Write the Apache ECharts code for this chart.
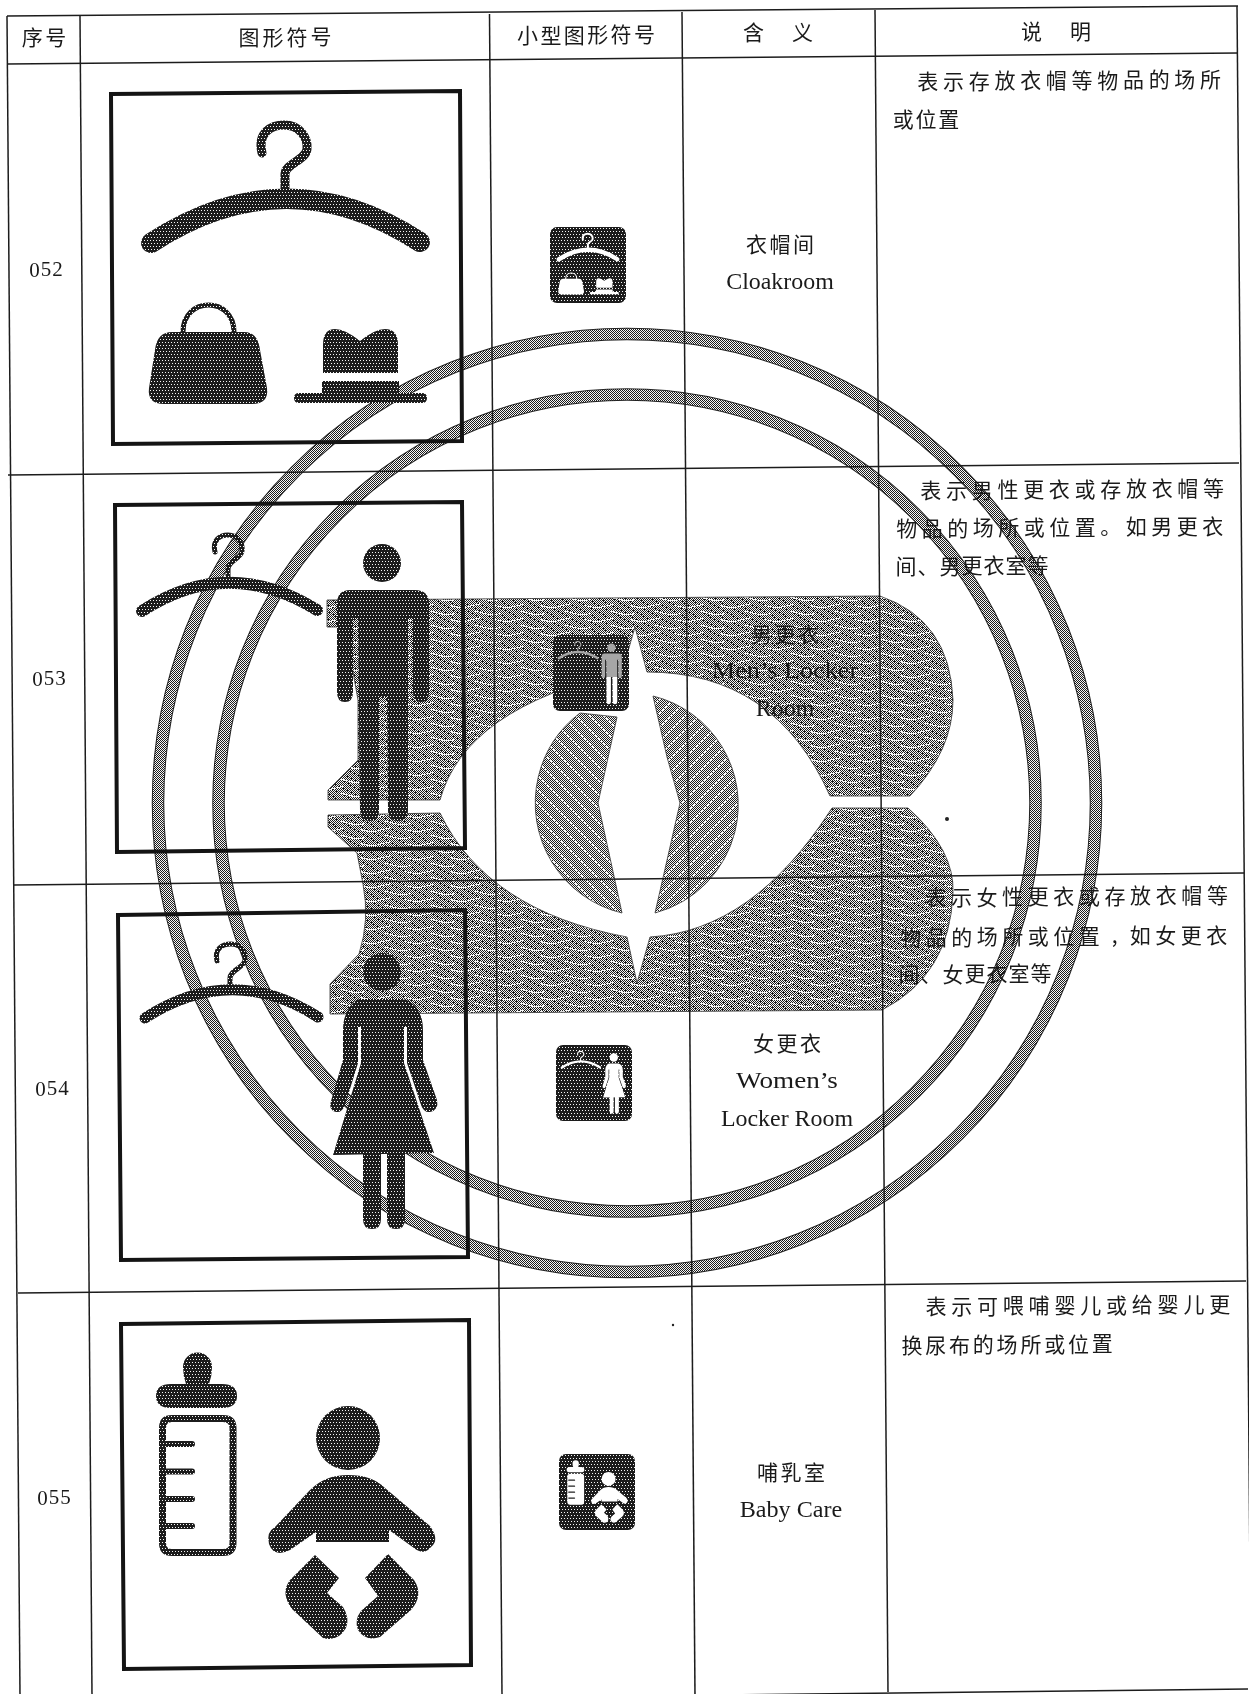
<!DOCTYPE html>
<html>
<head>
<meta charset="utf-8">
<title>图形符号</title>
<style>html,body{margin:0;padding:0;background:#fff}#main{width:1249px;height:1694px}</style>
<script src="https://cdn.jsdelivr.net/npm/echarts@6/dist/echarts.min.js"></script>
</head>
<body>
<div id="main"></div>
<script>
// table content
var headerLabels = ['序号', '图形符号', '小型图形符号', '含义', '说明'];
var rowNumbers = ['052', '053', '054', '055'];
var meaningZh = ['衣帽间', '男更衣', '女更衣', '哺乳室'];
var meaningEn = [['Cloakroom'], ['Men’s Locker', 'Room'], ['Women’s', 'Locker Room'], ['Baby Care']];
var descriptions = [
    ['表示存放衣帽等物品的场所', '或位置'],
    ['表示男性更衣或存放衣帽等', '物品的场所或位置。如男更衣', '间、男更衣室等'],
    ['表示女性更衣或存放衣帽等', '物品的场所或位置,如女更衣', '间、女更衣室等'],
    ['表示可喂哺婴儿或给婴儿更', '换尿布的场所或位置']
];

// layout, in page pixels (the scan is slightly rotated)
var gridLines = [
    [7, 16, 1238, 6], [7, 64, 1238, 53], [8, 475, 1239, 463], [14, 885, 1244, 873],
    [18, 1293, 1246, 1281], [18, 1703, 1248, 1689],
    [7, 16, 20, 1694], [80, 16, 92, 1694], [489.5, 14, 502, 1694],
    [682, 12, 695, 1694], [875, 10, 888, 1692], [1237, 6, 1251, 1694]
];
var headerPos = [[44, 37, 23.5], [285, 37, 24], [586, 35, 23.4], [778, 32, 49], [1056, 31, 49]];
var numberPos = [[46, 271], [49, 680], [52, 1090], [54, 1499]];
var numberPitch = 11.5;
var meaningPos = [[780, 244, 283], [785, 634, 672, 710], [787, 1043, 1082, 1120], [791, 1472, 1511]];
var meaningStretch = [[1.04], [1.14, 1.04], [1.18, 1.04], [1.05]];
var descPos = [
    [[915, 81, 25.7], [892, 119, 22.7]],
    [[918, 490, 25.7], [894, 528, 25.5], [895, 566, 22]],
    [[923, 897, 25.6], [898, 937, 25.5], [898, 974, 22]],
    [[923, 1306, 25.8], [900, 1345, 23.8]]
];
var frames = [
    [[111, 94], [460, 91], [462, 441], [113, 444]],
    [[115, 505], [462, 502], [465, 848], [117, 852]],
    [[118, 915], [465, 910], [468, 1257], [121, 1260]],
    [[121, 1324], [469, 1320], [471, 1665], [124, 1669]]
];
var smallIcons = [[550, 227], [553, 635], [556, 1045], [559, 1454]];
var smallSize = 76;
var specks = [[947, 819, 2], [673, 1325, 1.2]];
var sealCenter = [627, 803];
var sealRadius = [469, 408.5];

function disc(x, y, r) {
    return 'M' + (x - r) + ' ' + y + 'A' + r + ' ' + r + ' 0 1 0 ' + (x + r) + ' ' + y +
        'A' + r + ' ' + r + ' 0 1 0 ' + (x - r) + ' ' + y + 'Z';
}

// symbol outlines; w means stroked with that width
var symbolParts = [
    [
        { d: 'M262 153 C257 132 272 125 284 125 C300 125 308 138 307 149 C306 160 285 164 285 174 L285 192', w: 9 },
        { d: 'M151 243 Q286 155 420 242', w: 20 },
        { d: 'M172 332 L244 332 Q258 332 260 350 L267 388 Q269 404 252 404 L164 404 Q147 404 149 388 L155 350 Q157 332 172 332 Z' },
        { d: 'M183 332 C183 296 234 296 234 332', w: 5 },
        { d: 'M323 373 L323 345 Q323 329 335 329 Q345 329 360 341 Q375 329 385 329 Q398 329 398 345 L398 373 Z' },
        { d: 'M322 381 L399 381 L399 393 L422 393 Q427 393 427 398 Q427 403 422 403 L299 403 Q294 403 294 398 Q294 393 299 393 L322 393 Z' }
    ],
    [
        { d: 'M215 552 C212 540 220 535 228 535 C238 535 243 544 242 551 C241 559 228 561 228 569 L228 582', w: 5 },
        { d: 'M142 611 Q228 555 317 610', w: 12 },
        { d: disc(382, 563, 19) },
        { d: 'M350 590 L415 590 Q429 590 429 604 L429 692 Q429 702 421 702 Q413 702 413 692 L413 618 L408 618 L408 810 Q408 821 398 821 Q388 821 388 810 L387 697 L379 697 L379 810 Q379 821 369 821 Q360 821 360 810 L358 618 L353 618 L353 692 Q353 702 345 702 Q337 702 337 692 L337 604 Q337 590 350 590 Z' }
    ],
    [
        { d: 'M217 961 C214 949 222 944 231 944 C241 944 246 953 245 960 C244 968 230 970 230 978 L230 990', w: 5 },
        { d: 'M145 1018 Q232 962 318 1017', w: 11 },
        { d: disc(382, 972, 19) },
        { d: 'M360 999 L402 999 Q412 1000 418 1010 Q423 1018 423 1030 L423 1060 L437 1100 Q439 1110 430 1112 Q424 1113 421 1105 L407 1063 L407 1027 L404 1027 L404 1063 L434 1153 L333 1155 L361 1063 L361 1027 L358 1027 L358 1063 L345 1105 Q342 1113 336 1112 Q328 1110 331 1101 L343 1060 L343 1030 Q343 1018 348 1010 Q353 1000 360 999 Z' },
        { d: 'M363 1150 L381 1150 L381 1219 Q381 1229 372 1229 Q363 1229 363 1219 Z' },
        { d: 'M387 1150 L405 1150 L405 1219 Q405 1229 396 1229 Q387 1229 387 1219 Z' }
    ],
    [
        { d: 'M186 1384 Q183 1376 183 1367 A14.5 14.5 0 0 1 212 1367 Q212 1376 209 1384 L222 1384 Q237 1384 237 1396 Q237 1408 222 1408 L171 1408 Q156 1408 156 1396 Q156 1384 171 1384 Z' },
        { d: 'M172 1418.5 L223 1418.5 Q233 1418.5 233 1428 L233 1543 Q233 1552.5 223 1552.5 L172 1552.5 Q162.5 1552.5 162.5 1543 L162.5 1428 Q162.5 1418.5 172 1418.5 Z', w: 7 },
        { d: 'M166 1444 L192 1444 M166 1471.5 L192 1471.5 M166 1499 L192 1499 M166 1526 L192 1526', w: 6 },
        { d: disc(348, 1438, 32) },
        { d: 'M348 1475 Q372 1475 385 1488 L430 1526 Q440 1540 431 1547 Q424 1556 414 1548 L389 1530 L389 1542 L316 1542 L316 1532 L290 1550 Q274 1558 269 1544 Q266 1532 275 1527 L310 1490 Q325 1475 348 1475 Z' },
        { d: 'M315 1555 L339 1578 L327 1593 L343 1607 Q350 1618 346 1628 Q338 1642 323 1638 L292 1609 Q280 1593 290 1580 Z' },
        { d: 'M388 1554 L365 1578 L378 1596 L361 1611 Q354 1620 358 1630 Q366 1642 380 1637 L411 1610 Q424 1595 414 1580 Z' }
    ]
];
// white legs of the small 053 figure stay clear of the stamp
var smallManLegs = 'M360 697 L408 697 L408 810 Q408 821 398 821 Q388 821 388 810 L387 697 L379 697 L379 810 Q379 821 369 821 Q360 821 360 810 Z';
var smallBottleBody = 'M172 1415 L223 1415 Q236 1415 236 1428 L236 1543 Q236 1556 223 1556 L172 1556 Q159 1556 159 1543 L159 1428 Q159 1415 172 1415 Z';

// stamp behind the table
var sealUpper = 'M327 600 L880 596 Q950 620 953 700 Q953 750 910 796 L830 796 Q775 672 647 672 L635 627 L622 672 Q465 708 440 800 L328 800 L328 790 L358 760 L358 700 L345 627 L327 627 Z';
var sealLower = 'M328 815 L440 813 Q487 911 627 937 L637 983 L650 937 Q753 931 832 808 L908 808 Q955 850 953 893 Q950 975 882 1010 L330 1014 L330 984 L359 954 Q370 920 363 884 L357 853 L328 827 Z';
var pupilLeft = 'M617 717 L598 803 L612 867 L622 913 A113 113 0 0 1 580 713 Z';
var pupilRight = 'M653 696 A112 112 0 0 1 655 913 L680 803 L667 757 Z';

// scan-like 1-bit textures
function tile(w, h, isDark) {
    var c = document.createElement('canvas');
    c.width = w;
    c.height = h;
    var ctx = c.getContext('2d');
    for (var y = 0; y < h; y++) {
        for (var x = 0; x < w; x++) {
            ctx.fillStyle = isDark(x, y) ? '#1c1c1c' : '#f6f6f6';
            ctx.fillRect(x, y, 1, 1);
        }
    }
    return { image: c, repeat: 'repeat' };
}
// stipple: sparse light dots in staggered rows
var inkFill = tile(6, 6, function (x, y) {
    return !(y % 3 === 0 && x % 3 === (y % 6 === 0 ? 0 : 1));
});
var sealFill = tile(90, 14, function (x, y) {
    var wave = Math.round(3 + 2 * Math.sin(x * Math.PI / 22.5));
    var wave2 = Math.round(10 + 2 * Math.sin(x * Math.PI / 22.5 + 2));
    if ((y === wave && x % 45 < 30) || (y === wave2 && (x + 20) % 45 < 25)) { return false; }
    return (x + y) % 2 === 0 || (x * 5 + y * 3) % 13 === 0;
});
var pupilFillL = tile(14, 14, function (x, y) {
    return ((x - y + 14) % 14 !== 0 || x % 3 === 0) && (x + y) % 2 === 0;
});
var pupilFillR = tile(14, 14, function (x, y) {
    return ((x + y) % 14 !== 0 || x % 3 === 0) && (x + y) % 2 === 0;
});
var ringFill = tile(2, 2, function (x, y) { return (x + y) % 2 === 0; });

var cjkFont = '"Noto Sans CJK SC"';
var latinFont = '"Liberation Serif"';

function textEl(api, str, x, y, font, stretch) {
    var p = api.coord([x, y]);
    return {
        type: 'text',
        x: p[0],
        y: p[1],
        scaleX: stretch || 1,
        style: { text: str, x: 0, y: 0, font: font, fill: '#1a1a1a', align: 'center', verticalAlign: 'middle' }
    };
}

// one text element per character, to keep the wide set of the print
function charRun(api, str, x0, y, pitch, font) {
    var els = [];
    for (var i = 0; i < str.length; i++) {
        els.push(textEl(api, str[i], x0 + pitch * (i + 0.5), y - pitch * i * 0.008, font));
    }
    return els;
}

function partEls(parts, fill) {
    return parts.map(function (part) {
        var style = part.w
            ? { fill: 'none', stroke: fill, lineWidth: part.w, lineCap: 'round', lineJoin: 'round' }
            : { fill: fill };
        return { type: 'path', shape: { pathData: part.d }, style: style };
    });
}

function renderSeal(params, api) {
    var c = api.coord(sealCenter);
    var o = api.coord([0, 0]);
    var pieces = [[sealUpper, sealFill], [sealLower, sealFill], [pupilLeft, pupilFillL], [pupilRight, pupilFillR]];
    var children = pieces.map(function (piece) {
        return { type: 'path', x: o[0], y: o[1], shape: { pathData: piece[0] }, style: { fill: piece[1], stroke: '#333', lineWidth: 0.8 } };
    });
    sealRadius.forEach(function (r) {
        children.push({ type: 'circle', shape: { cx: c[0], cy: c[1], r: r }, style: { fill: 'none', stroke: '#222', lineWidth: 12.5 } });
        children.push({ type: 'circle', shape: { cx: c[0], cy: c[1], r: r }, style: { fill: 'none', stroke: ringFill, lineWidth: 10.5 } });
    });
    return { type: 'group', children: children };
}

function renderLine(params, api) {
    var a = api.coord([api.value(0), api.value(1)]);
    var b = api.coord([api.value(2), api.value(3)]);
    return { type: 'line', shape: { x1: a[0], y1: a[1], x2: b[0], y2: b[1] }, style: { stroke: '#1c1c1c', lineWidth: 1.5 } };
}

function smallParts(i) {
    var parts = symbolParts[i];
    if (i === 1) {
        return partEls(parts, '#a6a6a6').concat(partEls([{ d: smallManLegs }], '#fff'));
    }
    if (i === 3) {
        // bottle is solid white here, its marks stay dark
        return partEls([parts[0], { d: smallBottleBody }], '#fff')
            .concat(partEls([parts[2]], '#222'))
            .concat(partEls(parts.slice(3), '#fff'));
    }
    return partEls(parts, '#fff');
}

function renderSymbol(params, api) {
    var i = api.value(0);
    var points = frames[i].map(function (p) { return api.coord(p); });
    var origin = api.coord([0, 0]);
    var frame = { type: 'polygon', shape: { points: points }, style: { fill: 'none', stroke: '#141414', lineWidth: 4 } };
    var big = { type: 'group', x: origin[0], y: origin[1], children: partEls(symbolParts[i], inkFill) };

    // small version: same outlines, reversed out of a dark tile
    var s = smallSize / (frames[i][1][0] - frames[i][0][0]);
    var corner = api.coord(smallIcons[i]);
    var tileBg = { type: 'rect', shape: { x: corner[0], y: corner[1], width: smallSize, height: smallSize, r: 7 }, style: { fill: inkFill } };
    var small = {
        type: 'group',
        x: corner[0] - frames[i][0][0] * s,
        y: corner[1] - frames[i][0][1] * s,
        scaleX: s,
        scaleY: s,
        children: smallParts(i)
    };
    return { type: 'group', children: [frame, big, tileBg, small] };
}

function renderRowText(params, api) {
    var i = api.value(0);
    var num = numberPos[i];
    var children = charRun(api, rowNumbers[i], num[0] - numberPitch * 1.5, num[1], numberPitch, '21px ' + latinFont);
    var m = meaningPos[i];
    var zhPitch = 23.5;
    children = children.concat(charRun(api, meaningZh[i], m[0] - zhPitch * 1.5, m[1], zhPitch, '21px ' + cjkFont));
    meaningEn[i].forEach(function (line, j) {
        children.push(textEl(api, line, m[0], m[j + 2], '23px ' + latinFont, meaningStretch[i][j]));
    });
    descriptions[i].forEach(function (line, j) {
        var d = descPos[i][j];
        children = children.concat(charRun(api, line, d[0], d[1], d[2], '21px ' + cjkFont));
    });
    return { type: 'group', children: children };
}

function renderHeader(params, api) {
    var i = api.value(0);
    var pos = headerPos[i];
    var n = headerLabels[i].length;
    return { type: 'group', children: charRun(api, headerLabels[i], pos[0] - pos[2] * n / 2, pos[1], pos[2], '21px ' + cjkFont) };
}

function renderSpeck(params, api) {
    var p = api.coord([api.value(0), api.value(1)]);
    return { type: 'circle', shape: { cx: p[0], cy: p[1], r: api.value(2) }, style: { fill: '#222' } };
}

function customSeries(data, renderItem) {
    return { type: 'custom', silent: true, animation: false, clip: false, data: data, renderItem: renderItem };
}

var rowIndex = rowNumbers.map(function (_, i) { return [i]; });
var headerIndex = headerLabels.map(function (_, i) { return [i]; });

var myChart = echarts.init(document.getElementById('main'), null, { renderer: 'canvas' });
myChart.setOption({
    backgroundColor: '#fff',
    animation: false,
    grid: { left: 0, right: 0, top: 0, bottom: 0 },
    xAxis: { type: 'value', min: 0, max: 1249, show: false },
    yAxis: { type: 'value', min: 0, max: 1694, inverse: true, show: false },
    series: [
        customSeries([[0]], renderSeal),
        customSeries(gridLines, renderLine),
        customSeries(rowIndex, renderSymbol),
        customSeries(headerIndex, renderHeader),
        customSeries(rowIndex, renderRowText),
        customSeries(specks, renderSpeck)
    ]
});
</script>
</body>
</html>
